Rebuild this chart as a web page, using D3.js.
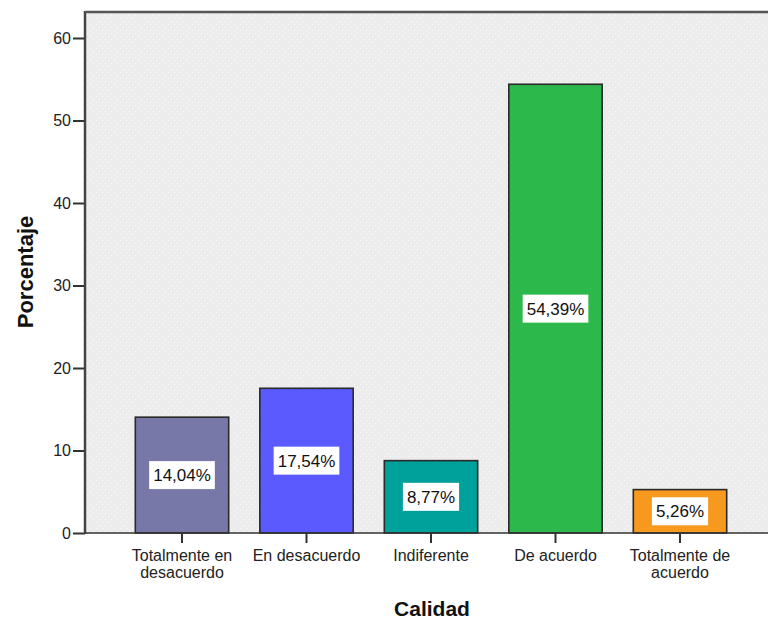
<!DOCTYPE html>
<html>
<head>
<meta charset="utf-8">
<script src="https://cdn.jsdelivr.net/npm/d3@7/dist/d3.min.js"></script>
<style>
  html, body { margin: 0; padding: 0; background: #fff; }
  svg { display: block; font-family: "Liberation Sans", Arial, sans-serif; }
</style>
</head>
<body>
<svg id="chart" width="768" height="620"></svg>
<script>
// Survey responses for "Calidad" (percent of respondents)
const categories = [
  ["Totalmente en", "desacuerdo"],
  ["En desacuerdo"],
  ["Indiferente"],
  ["De acuerdo"],
  ["Totalmente de", "acuerdo"]
];
const values = [14.04, 17.54, 8.77, 54.39, 5.26];
const valueLabels = ["14,04%", "17,54%", "8,77%", "54,39%", "5,26%"];
const barColors = ["#7878a8", "#5a5aff", "#00a09b", "#2db84b", "#f7991f"];
const yTicks = [0, 10, 20, 30, 40, 50, 60];

const svg = d3.select("#chart");
const plot = { left: 85, right: 790, top: 12, bottom: 533 };

// dotted grey fill for the plot area
const defs = svg.append("defs");
const pat = defs.append("pattern")
  .attr("id", "dots").attr("patternUnits", "userSpaceOnUse")
  .attr("width", 6).attr("height", 6);
pat.append("rect").attr("width", 6).attr("height", 6).attr("fill", "#ececec");
pat.append("rect").attr("x", 0).attr("y", 0).attr("width", 1).attr("height", 1).attr("fill", "#fafafa");
pat.append("rect").attr("x", 3).attr("y", 3).attr("width", 1).attr("height", 1).attr("fill", "#fafafa");

const keys = d3.range(values.length);
const x = d3.scaleBand()
  .domain(keys)
  .range([119.75, 742.25])
  .paddingInner(0.25)
  .paddingOuter(0.125);

const y = d3.scaleLinear().domain([0, 60]).range([plot.bottom, 38]);

svg.append("rect")
  .attr("x", plot.left).attr("y", plot.top)
  .attr("width", plot.right - plot.left).attr("height", plot.bottom - plot.top)
  .attr("fill", "url(#dots)");

// bars
svg.append("g").selectAll("rect")
  .data(keys)
  .join("rect")
  .attr("x", i => x(i))
  .attr("y", i => y(values[i]))
  .attr("width", x.bandwidth())
  .attr("height", i => y(0) - y(values[i]))
  .attr("fill", i => barColors[i])
  .attr("stroke", "#2a2a2a")
  .attr("stroke-width", 1.6);

// value labels in white boxes at bar midpoints
const lab = svg.append("g").selectAll("g")
  .data(keys)
  .join("g")
  .attr("transform", i => `translate(${x(i) + x.bandwidth() / 2},${(y(values[i]) + y(0)) / 2})`);
lab.append("text")
  .attr("text-anchor", "middle")
  .attr("dy", "0.36em")
  .attr("font-size", 17)
  .attr("fill", "#111")
  .text(i => valueLabels[i]);
lab.each(function () {
  const g = d3.select(this);
  const b = g.select("text").node().getBBox();
  g.insert("rect", "text")
    .attr("x", b.x - 4).attr("y", -14)
    .attr("width", b.width + 8).attr("height", 28)
    .attr("fill", "#fff");
});

// y axis
const yAxis = d3.axisLeft(y).tickValues(yTicks).tickSize(12).tickPadding(2).tickFormat(d3.format("d"));
const ya = svg.append("g").attr("transform", `translate(${plot.left},0)`).call(yAxis);
ya.select(".domain").remove();
ya.selectAll(".tick line").attr("stroke", "#333").attr("stroke-width", 2);
ya.selectAll(".tick text").attr("font-size", 16).attr("fill", "#222")
  .attr("font-family", "'Liberation Sans', Arial, sans-serif");

// x axis
const xAxis = d3.axisBottom(x).tickSize(10).tickFormat("");
const xa = svg.append("g").attr("transform", `translate(0,${plot.bottom})`).call(xAxis);
xa.select(".domain").remove();
xa.selectAll(".tick line").attr("stroke", "#333").attr("stroke-width", 2);

// category labels, one text element per line
const cat = svg.append("g").selectAll("g")
  .data(keys)
  .join("g")
  .attr("transform", i => `translate(${x(i) + x.bandwidth() / 2},561)`);
cat.selectAll("text")
  .data(i => categories[i])
  .join("text")
  .attr("text-anchor", "middle")
  .attr("font-size", 16)
  .attr("fill", "#222")
  .attr("y", (d, j) => j * 17)
  .text(d => d);

// frame: left, top and baseline
svg.append("line").attr("x1", plot.left).attr("x2", plot.left)
  .attr("y1", plot.top - 1).attr("y2", plot.bottom + 1)
  .attr("stroke", "#444").attr("stroke-width", 2.5);
svg.append("line").attr("x1", plot.left).attr("x2", plot.right)
  .attr("y1", plot.top).attr("y2", plot.top)
  .attr("stroke", "#555").attr("stroke-width", 2.5);
svg.append("line").attr("x1", plot.left).attr("x2", plot.right)
  .attr("y1", plot.bottom).attr("y2", plot.bottom)
  .attr("stroke", "#333").attr("stroke-width", 1.6);

// axis titles
svg.append("text")
  .attr("transform", "translate(33,272) rotate(-90)")
  .attr("text-anchor", "middle")
  .attr("font-size", 22).attr("font-weight", "bold").attr("fill", "#111")
  .text("Porcentaje");
svg.append("text")
  .attr("x", 432).attr("y", 616)
  .attr("text-anchor", "middle")
  .attr("font-size", 21).attr("font-weight", "bold").attr("fill", "#111")
  .text("Calidad");
</script>
</body>
</html>
